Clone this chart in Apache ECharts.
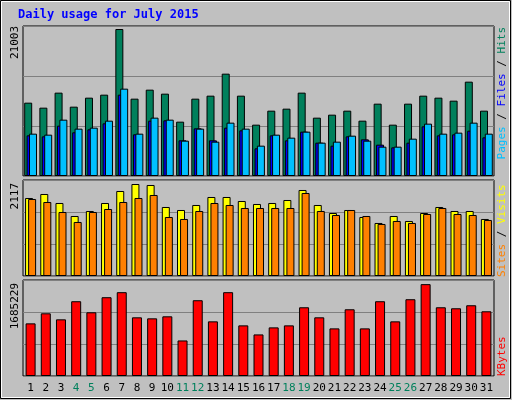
<!DOCTYPE html>
<html><head><meta charset="utf-8">
<script src="https://cdn.jsdelivr.net/npm/echarts@6/dist/echarts.min.js"></script>
<style>html,body{margin:0;padding:0;background:#c0c0c0}#c{width:512px;height:400px}</style>
</head><body><div id="c"></div>
<script>
const days = ['1','2','3','4','5','6','7','8','9','10','11','12','13','14','15','16','17','18','19','20','21','22','23','24','25','26','27','28','29','30','31'];
const weekendDays = ['4','5','11','12','18','19','25','26'];
const hits = [10479,9764,11908,9907,11193,11622,21003,11050,12336,11765,7764,11050,11479,14622,11479,7335,9335,9621,11908,8335,8764,9335,7907,10336,7335,10336,11479,11193,10764,13479,9335];
const files = [5811,5668,7192,6240,6668,7526,11622,5954,7907,7954,5096,6811,5096,6906,6525,3953,5811,5096,6335,4763,4334,5668,5239,4477,4096,4763,7097,5811,5954,6478,5525];
const pages = [6049,5906,8049,6763,6906,7907,12479,6049,8335,8049,5049,6763,4906,7621,6763,4334,5906,5477,6335,4763,4906,5763,5049,4191,4191,5334,7478,6049,6192,7621,6049];
const visits = [1795,1887,1680,1381,1496,1680,1956,2117,2094,1588,1519,1634,1818,1818,1726,1657,1680,1749,1979,1634,1450,1519,1358,1220,1381,1266,1450,1588,1496,1496,1312];
const sites = [1772,1703,1473,1243,1473,1542,1703,1795,1864,1358,1312,1496,1680,1634,1565,1565,1565,1565,1910,1496,1404,1519,1381,1197,1266,1220,1427,1565,1427,1404,1289];
const kbytes = [965550,1150050,1039350,1371450,1168500,1445250,1537500,1076250,1057800,1094700,651900,1389900,1002450,1537500,928650,762600,891750,928650,1260750,1076250,873300,1223850,873300,1371450,1002450,1408350,1685229,1260750,1242300,1297650,1186950];
const maxLabels = ['21003','2117','1685229'];

const font = 'DejaVu Sans Mono';
const chart = echarts.init(document.getElementById('c'));
const gridBase = {left:23, right:18, show:true, backgroundColor:'#c0c0c0', borderColor:'#000', borderWidth:1};
function xAx(i, showLabel){
  return {type:'category', gridIndex:i, data:days, axisTick:{show:false}, axisLine:{show:false},
    axisLabel:{show:showLabel, interval:0, margin:7, fontFamily:font, fontSize:11,
      formatter:function(v){return weekendDays.indexOf(v)>=0 ? '{w|'+v+'}' : '{n|'+v+'}';},
      rich:{w:{color:'#00805c',fontFamily:font,fontSize:11}, n:{color:'#000',fontFamily:font,fontSize:11}}}};
}
function yAx(i, max){
  return {type:'value', gridIndex:i, min:0, max:max, interval:max/3, axisLabel:{show:false}, axisLine:{show:false}, axisTick:{show:false},
    splitLine:{show:true, lineStyle:{color:'#808080', width:1}}};
}
const bs = {borderColor:'#000', borderWidth:1};
function bar(name, data, color, xi, w, gap){
  return {type:'bar', name:name, data:data, xAxisIndex:xi, yAxisIndex:xi, barWidth:w, barGap:gap, itemStyle:Object.assign({color:color}, bs), animation:false};
}
const tm = 'bold';
chart.setOption({
  backgroundColor:'#c0c0c0',
  animation:false,
  grid:[Object.assign({top:26, height:150}, gridBase), Object.assign({top:180, height:96}, gridBase), Object.assign({top:280, height:96}, gridBase)],
  xAxis:[xAx(0,false), xAx(1,false), xAx(2,true)],
  yAxis:[yAx(0, 21003*150/147), yAx(1, 2117*96/92), yAx(2, 1685229*95.4/91.3)],
  series:[
    bar('Hits', hits, '#00805c', 0, 8, '-70%'),
    bar('Files', files, '#0000ff', 0, 8, '-70%'),
    bar('Pages', pages, '#00c0ff', 0, 8, '-70%'),
    bar('Visits', visits, '#ffff00', 1, 8, '-62%'),
    bar('Sites', sites, '#ff8000', 1, 8, '-62%'),
    bar('KBytes', kbytes, '#ff0000', 2, 10, '0%')
  ],
  graphic:[
    {type:'rect', shape:{x:0.5,y:0.5,width:510,height:398}, style:{fill:null, stroke:'#000', lineWidth:1}, z:-1},
    {type:'rect', shape:{x:1.5,y:1.5,width:508,height:396}, style:{fill:null, stroke:'#fff', lineWidth:1}, z:-1},
    {type:'text', x:18, y:15, style:{text:'Daily usage for July 2015', fill:'#0000ff', font:'bold 12px '+font, verticalAlign:'middle'}},
    {type:'text', x:15, y:26, rotation:Math.PI/2, style:{text:maxLabels[0], fill:'#000', font:'11px '+font, align:'right', verticalAlign:'middle'}},
    {type:'text', x:15, y:183, rotation:Math.PI/2, style:{text:maxLabels[1], fill:'#000', font:'11px '+font, align:'right', verticalAlign:'middle'}},
    {type:'text', x:15, y:283, rotation:Math.PI/2, style:{text:maxLabels[2], fill:'#000', font:'11px '+font, align:'right', verticalAlign:'middle'}},
    {type:'text', x:502, y:27, rotation:Math.PI/2, style:{text:'{p|Pages} {s|/} {f|Files} {s|/} {h|Hits}', align:'right', verticalAlign:'middle', font:'11px '+font,
      rich:{p:{fill:'#00c0ff',font:'11px '+font}, f:{fill:'#0000ff',font:'11px '+font}, h:{fill:'#00805c',font:'11px '+font}, s:{fill:'#000',font:'11px '+font}}}},
    {type:'text', x:502, y:277, rotation:Math.PI/2, style:{text:'{a|Sites} {s|/} {b|Visits}', align:'left', verticalAlign:'middle', font:'11px '+font,
      rich:{a:{fill:'#ff8000',font:'11px '+font}, b:{fill:'#ffff00',font:'11px '+font}, s:{fill:'#000',font:'11px '+font}}}},
    {type:'text', x:502, y:376, rotation:Math.PI/2, style:{text:'KBytes', fill:'#ff0000', align:'left', verticalAlign:'middle', font:'11px '+font}}
  ]
});
</script></body></html>
